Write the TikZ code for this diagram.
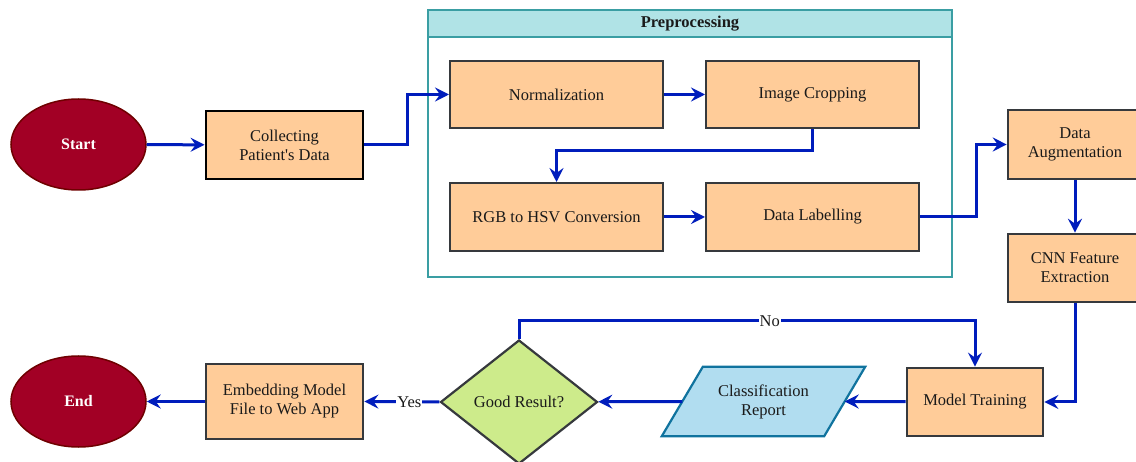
\documentclass[tikz,border=0pt]{standalone}
\usepackage{fontspec}
\setmainfont{Liberation Serif}[Ligatures=TeXOff]
\usetikzlibrary{shapes.geometric,arrows.meta,calc}
\definecolor{flowblue}{HTML}{001DBC}
\definecolor{boxfill}{HTML}{FFCC99}
\definecolor{boxline}{HTML}{36393D}
\definecolor{termfill}{HTML}{A20025}
\definecolor{termline}{HTML}{6F0000}
\definecolor{prepfill}{HTML}{B0E3E6}
\definecolor{prepline}{HTML}{3A9EA3}
\definecolor{decfill}{HTML}{CDEB8B}
\definecolor{repfill}{HTML}{B1DDF0}
\definecolor{repline}{HTML}{10739E}
\definecolor{txt}{HTML}{1A1A1A}
\tikzset{
  procbox/.style={draw=boxline, fill=boxfill, line width=2pt, inner sep=0pt,
    align=center, text=txt},
  terminal/.style={ellipse, draw=termline, fill=termfill, line width=1.5pt,
    minimum width=135, minimum height=91, inner sep=0pt, text=white, font=\fontsize{16}{18}\selectfont\bfseries},
  flow/.style={draw=flowblue, line width=3pt,
    -{Stealth[length=14pt,width=14pt,inset=5pt]}},
  edgelab/.style={fill=white, inner sep=1pt, text=txt}
}
\begin{document}
\begin{tikzpicture}[x=1pt, y=-1pt, font=\fontsize{16.5}{19}\selectfont]
\useasboundingbox (0,0) rectangle (1136,462);

% Preprocessing container
\node[draw=prepline, line width=1.8pt, minimum width=524, minimum height=267, inner sep=0pt]
  (prep) at (690,143.5) {};
\node[draw=prepline, fill=prepfill, line width=1.8pt, minimum width=524, minimum height=27,
  inner sep=0pt, font=\fontsize{16.5}{19}\selectfont\bfseries, text=txt]
  (prephead) at (690,23.5) {Preprocessing};

% Nodes
\node[terminal] (start) at (78.5,144.5) {Start};
\node[procbox, draw=black, line width=2.8pt, minimum width=157, minimum height=68]
  (collect) at (284.5,145) {Collecting\\Patient's Data};
\node[procbox, minimum width=213, minimum height=67] (norm) at (556.5,94.5) {Normalization};
\node[procbox, minimum width=213, minimum height=67] (crop) at (812.5,94.5) {Image Cropping};
\node[procbox, minimum width=213, minimum height=68] (rgb) at (556.5,217) {RGB to HSV Conversion};
\node[procbox, minimum width=213, minimum height=68] (label) at (812.5,217) {Data Labelling};
\node[procbox, line width=2.6pt, minimum width=134, minimum height=69] (aug) at (1075,144.5) {Data\\Augmentation};
\node[procbox, line width=2.6pt, minimum width=134, minimum height=68] (cnn) at (1075,268) {CNN Feature\\Extraction};
\node[procbox, line width=2.8pt, minimum width=136, minimum height=68] (train) at (975,402) {Model Training};
\node[minimum width=162, minimum height=69, inner sep=0pt, align=center, text=txt]
  (rep) at (763.5,401.5) {};
\filldraw[draw=repline, fill=repfill, line width=2.2pt, line join=miter]
  ($(rep.north west)+(20.5,0)$) -- ($(rep.north east)+(20.5,0)$) --
  ($(rep.south east)+(-20.5,0)$) -- ($(rep.south west)+(-20.5,0)$) -- cycle;
\node[align=center, text=txt] at (rep) {Classification\\Report};
\node[diamond, aspect=1.266, draw=boxline, fill=decfill, line width=2.2pt,
  minimum width=157, minimum height=124, inner sep=0pt, text=txt]
  (good) at (519,402) {Good Result?};
\node[procbox, line width=2.8pt, minimum width=157, minimum height=75]
  (embed) at (284.5,401.5) {Embedding Model\\File to Web App};
\node[terminal] (end) at (78.5,401.5) {End};

% Connectors
\draw[flow] (start) -- (collect);
\draw[flow] (collect.east) -- ++(43,0) |- (norm.west);
\draw[flow] (norm) -- (crop);
\draw[flow] (crop.south) -- ++(0,22) -| (rgb.north);
\draw[flow] (rgb) -- (label);
\draw[flow] (label.east) -- ++(56,0) |- (aug.west);
\draw[flow] (aug) -- (cnn);
\draw[flow] (cnn.south) |- (train.east);
\draw[flow] (train) -- (rep.east);
\draw[flow] (rep.west) -- (good);
\draw[flow] (good.west) -- node[edgelab, pos=0.4] {Yes} (embed.east);
\draw[flow] (embed) -- (end);
\draw[flow] (good.north) -- ++(0,-18) -| node[edgelab, pos=0.275] {No} (train.north);
\end{tikzpicture}
\end{document}
